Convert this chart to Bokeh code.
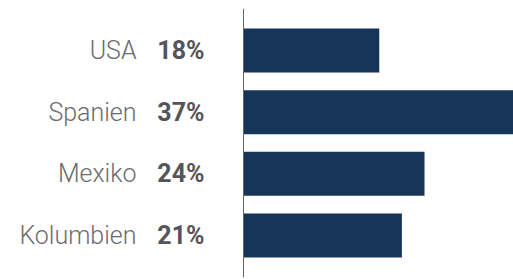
from bokeh.plotting import figure
from bokeh.models import ColumnDataSource, Range1d, FactorRange, Span
from bokeh.embed import file_html
from bokeh.resources import INLINE
from bokeh.core.properties import value

countries = ["USA", "Spanien", "Mexiko", "Kolumbien"]
shares = [18, 37, 24, 21]
share_labels = ["18%", "37%", "24%", "21%"]

src = ColumnDataSource(dict(country=countries, share=shares, label=share_labels,
                            zero=[0] * len(countries)))

px_per_unit = 7.542
left_px = 243
W, H = 513, 279

p = figure(width=W, height=H, output_backend="svg", toolbar_location=None,
           y_range=FactorRange(factors=countries[::-1], range_padding=0.18,
                               range_padding_units="absolute"),
           x_range=Range1d(-left_px / px_per_unit, (W - left_px) / px_per_unit),
           min_border_left=0, min_border_right=0, min_border_top=8, min_border_bottom=2)

p.hbar(y="country", right="share", left=0, height=0.713, source=src,
       fill_color="#173459", line_color=None)

p.add_layout(Span(location=0, dimension="height", line_color="#666666", line_width=1))

p.xaxis.visible = False
p.yaxis.visible = False
p.xgrid.visible = False
p.ygrid.visible = False
p.outline_line_color = None

p.text(x="zero", y="country", text="label", source=src,
       x_offset=-39, text_align="right", text_baseline="middle",
       text_font=value("Roboto"), text_font_style="bold",
       text_font_size="25px", text_color="#555559")
p.text(x="zero", y="country", text="country", source=src,
       x_offset=-107, text_align="right", text_baseline="middle",
       text_font=value("Roboto Light"), text_font_style="normal",
       text_font_size="25px", text_color="#6b6b70")

open("out.html", "w").write(file_html(p, INLINE))
